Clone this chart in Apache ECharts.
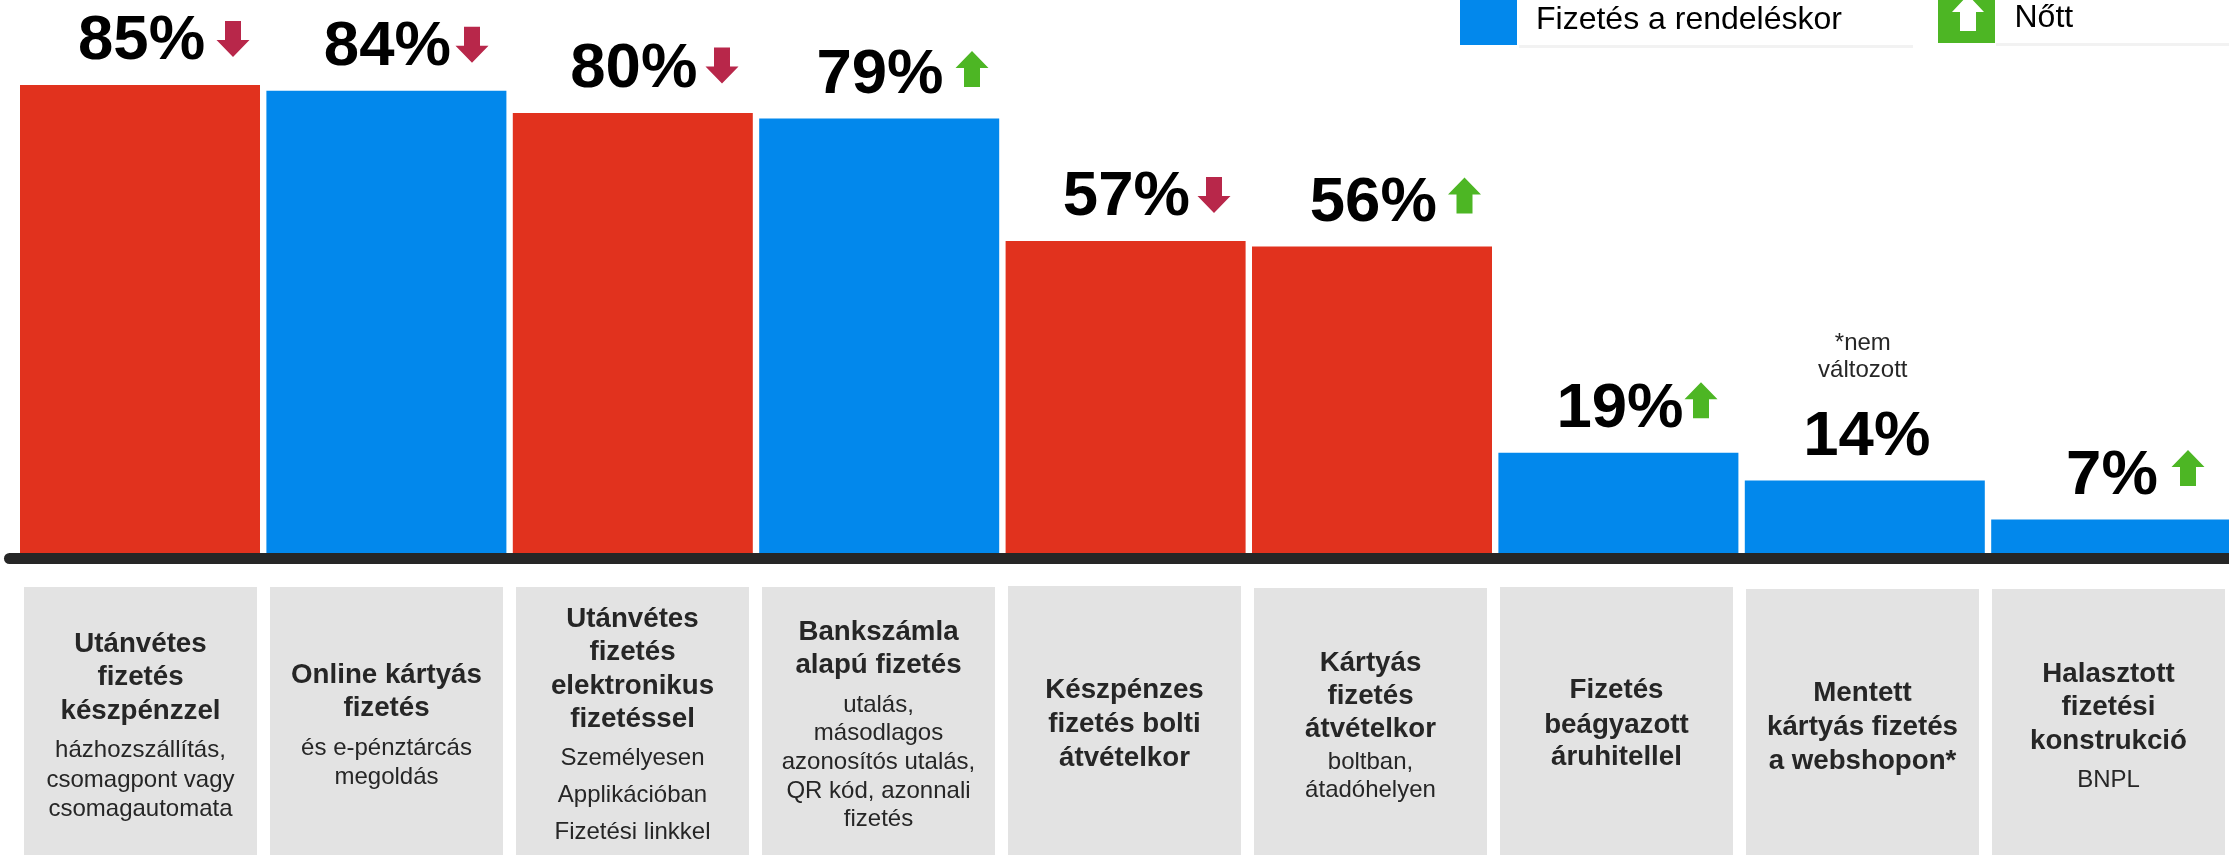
<!DOCTYPE html>
<html>
<head>
<meta charset="utf-8">
<style>html,body{margin:0;padding:0;background:#fff}#c{width:2229px;height:855px}</style>
<script src="https://cdn.jsdelivr.net/npm/echarts@6/dist/echarts.min.js"></script>
</head>
<body>
<div id="c"></div>
<script>
// ---- data ----
const values = [85, 84, 80, 79, 57, 56, 19, 14, 7];
const groups = ['red', 'blue', 'red', 'blue', 'red', 'red', 'blue', 'blue', 'blue'];
const trends = ['down', 'down', 'down', 'up', 'down', 'up', 'up', null, 'up'];
const titles = [
  ['Utánvétes', 'fizetés', 'készpénzzel'],
  ['Online kártyás', 'fizetés'],
  ['Utánvétes', 'fizetés', 'elektronikus', 'fizetéssel'],
  ['Bankszámla', 'alapú fizetés'],
  ['Készpénzes', 'fizetés bolti', 'átvételkor'],
  ['Kártyás', 'fizetés', 'átvételkor'],
  ['Fizetés', 'beágyazott', 'áruhitellel'],
  ['Mentett', 'kártyás fizetés', 'a webshopon*'],
  ['Halasztott', 'fizetési', 'konstrukció']
];
const details = [
  ['házhozszállítás,', 'csomagpont vagy', 'csomagautomata'],
  ['és e-pénztárcás', 'megoldás'],
  ['Személyesen', 'Applikációban', 'Fizetési linkkel'],
  ['utalás,', 'másodlagos', 'azonosítós utalás,', 'QR kód, azonnali', 'fizetés'],
  [],
  ['boltban,', 'átadóhelyen'],
  [],
  [],
  ['BNPL']
];
const noteLines = ['*nem', 'változott'];
const legendBlue = 'Fizetés a rendeléskor';
const legendUp = 'Nőtt';

// ---- styling / layout (separate from data) ----
const colors = { red: '#E1321E', blue: '#0288EC', up: '#4DB624', down: '#B8274A', box: '#E3E3E3', ink: '#262626', rule: '#F2F2F2' };
const font = '"Liberation Sans", Arial, sans-serif';
const labelDx = [1.6, 1, 1, 0.8, 0.8, 1.3, 1.6, 2, 0.8];
const arrowDx = [93, 85.6, 89.2, 92.8, 88.4, 92.5, 82.6, 0, 76.8];
const arrowDy = [-46, -46, -47.5, -49.5, -46, -51, -52.5, 0, -51.5];
const boxTop = [587, 587, 587, 587, 586, 588, 587, 589, 589];
const titleY = [
  [644, 677, 711], [675, 708], [619, 652, 686, 719], [632, 665],
  [690, 724, 758], [663, 696, 729], [690, 725, 757], [693, 727, 761], [674, 707, 741]
];
const detailY = [
  [750, 780, 809], [748, 777], [758, 795, 832], [705, 733, 762, 791, 819],
  [], [762, 790], [], [], [780]
];

function arrowPoints(cx, cy, dir) {
  const s = dir === 'up' ? -1 : 1;
  return [[cx, cy + s * 18], [cx + 16.5, cy + s], [cx + 8, cy + s], [cx + 8, cy - s * 18],
          [cx - 8, cy - s * 18], [cx - 8, cy + s], [cx - 16.5, cy + s]];
}

const chart = echarts.init(document.getElementById('c'), null, { renderer: 'canvas' });
chart.setOption({
  animation: false,
  backgroundColor: '#fff',
  grid: [
    { left: 16.8, top: 1.5, width: 2217.6, height: 551.5, outerBoundsMode: 'none' },
    { left: 17.5, top: 586, width: 2214, height: 269, outerBoundsMode: 'none' }
  ],
  xAxis: [
    { type: 'category', gridIndex: 0, data: values.map((_, i) => titles[i].join(' ')), axisLine: { show: false }, axisTick: { show: false }, axisLabel: { show: false } },
    { type: 'category', gridIndex: 1, data: values.map((_, i) => titles[i].join(' ')), axisLine: { show: false }, axisTick: { show: false }, axisLabel: { show: false } }
  ],
  yAxis: [
    { type: 'value', gridIndex: 0, min: 1, max: 100, show: false, splitLine: { show: false } },
    { type: 'value', gridIndex: 1, min: 0, max: 1, show: false, splitLine: { show: false } }
  ],
  series: [
    {
      type: 'bar', xAxisIndex: 0, yAxisIndex: 0, barWidth: 240, z: 2,
      data: values.map((v, i) => ({
        value: v,
        itemStyle: { color: colors[groups[i]] },
        label: { offset: [labelDx[i], 0] }
      })),
      label: {
        show: true, position: 'top', distance: 11.5, formatter: '{c}%',
        fontFamily: font, fontWeight: 'bold', fontSize: 63.5, color: '#000'
      }
    },
    {
      // trend arrows and the note above the 14% bar
      type: 'custom', xAxisIndex: 0, yAxisIndex: 0, z: 3, silent: true,
      data: values.map((v, i) => [i, v]),
      renderItem(params, api) {
        const i = api.value(0);
        const p = api.coord([i, api.value(1)]);
        const kids = [];
        if (trends[i]) {
          kids.push({
            type: 'polygon',
            shape: { points: arrowPoints(p[0] + arrowDx[i], p[1] + arrowDy[i], trends[i]) },
            style: { fill: colors[trends[i]] }
          });
        } else {
          noteLines.forEach((t, k) => kids.push({
            type: 'text',
            style: { text: t, x: p[0] - 2, y: p[1] - 137 + k * 27, align: 'center', verticalAlign: 'middle',
                     font: '24px ' + font, fill: colors.ink }
          }));
        }
        return { type: 'group', children: kids };
      }
    },
    {
      // grey description cards
      type: 'custom', xAxisIndex: 1, yAxisIndex: 1, z: 1, silent: true, clip: false,
      data: values.map((v, i) => [i]),
      renderItem(params, api) {
        const i = api.value(0);
        const cx = api.coord([i, 0])[0];
        const kids = [{
          type: 'rect',
          shape: { x: cx - 116.5, y: boxTop[i], width: 233, height: 855 - boxTop[i] },
          style: { fill: colors.box }
        }];
        titles[i].forEach((t, k) => kids.push({
          type: 'text',
          style: { text: t, x: cx, y: titleY[i][k], align: 'center', verticalAlign: 'middle',
                   font: 'bold 27.7px ' + font, fill: colors.ink }
        }));
        details[i].forEach((t, k) => kids.push({
          type: 'text',
          style: { text: t, x: cx, y: detailY[i][k], align: 'center', verticalAlign: 'middle',
                   font: '24px ' + font, fill: colors.ink }
        }));
        return { type: 'group', children: kids };
      }
    }
  ],
  graphic: [
    // baseline
    { type: 'rect', z: 5, shape: { x: 4, y: 553, width: 2240, height: 11, r: 5.5 }, style: { fill: colors.ink } },
    // legend: blue
    { type: 'rect', shape: { x: 1460, y: -2, width: 57, height: 47 }, style: { fill: colors.blue } },
    { type: 'rect', shape: { x: 1519, y: 45, width: 394, height: 3 }, style: { fill: colors.rule } },
    { type: 'text', style: { text: legendBlue, x: 1536, y: 20, verticalAlign: 'middle', font: '32px ' + font, fill: '#000' } },
    // legend: up
    { type: 'rect', shape: { x: 1938, y: -2, width: 57, height: 45 }, style: { fill: colors.up } },
    { type: 'polygon', shape: { points: [[1968, -5], [1984, 12], [1976, 12], [1976, 31], [1960, 31], [1960, 12], [1952, 12]] }, style: { fill: '#fff' } },
    { type: 'rect', shape: { x: 1996, y: 43, width: 233, height: 3 }, style: { fill: colors.rule } },
    { type: 'text', style: { text: legendUp, x: 2014.5, y: 18, verticalAlign: 'middle', font: '32px ' + font, fill: '#000' } }
  ]
});
</script>
</body>
</html>
